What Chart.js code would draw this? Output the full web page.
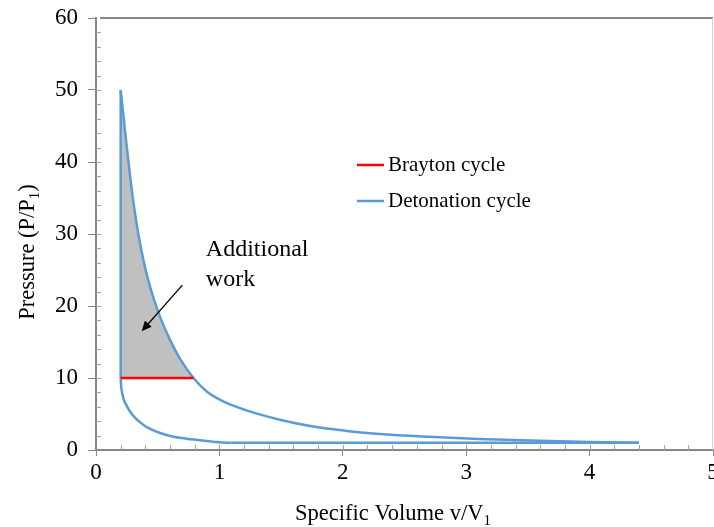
<!DOCTYPE html>
<html>
<head>
<meta charset="utf-8">
<script src="https://cdn.jsdelivr.net/npm/chart.js@4/dist/chart.umd.min.js"></script>
<style>
html, body { margin: 0; padding: 0; background: #fff; }
</style>
</head>
<body>
<canvas id="cycleChart" width="714" height="527"></canvas>
<script>
// values
const volBrayton = [0.2, 0.79];
const presBrayton = [10, 10];

const volExpansion = [0.2, 0.21, 0.222, 0.236, 0.252, 0.27, 0.29, 0.315, 0.345, 0.38, 0.42, 0.47, 0.53, 0.6, 0.68, 0.79, 0.9, 1.05, 1.22, 1.49, 1.76, 2.03, 2.3, 2.7, 3.1, 3.6, 4.0, 4.4];
const presExpansion = [50, 48.4, 46.5, 44.2, 41.7, 39.0, 36.1, 33.0, 29.8, 26.7, 23.8, 20.9, 18.0, 15.3, 12.7, 10.0, 8.1, 6.6, 5.5, 4.2, 3.25, 2.65, 2.22, 1.83, 1.53, 1.27, 1.12, 1.0];

const volCompression = [0.2, 0.203, 0.21, 0.225, 0.25, 0.28, 0.316, 0.36, 0.41, 0.47, 0.545, 0.63, 0.734, 0.83, 0.92, 1.0, 1.1];
const presCompression = [10, 9.0, 8.1, 7.0, 6.1, 5.25, 4.5, 3.8, 3.2, 2.7, 2.22, 1.85, 1.57, 1.38, 1.2, 1.07, 1.0];

const volCombustion = [0.2, 0.2];
const presCombustion = [10, 50];

const volRejection = [1.1, 4.4];
const presRejection = [1.0, 1.0];

const xTicks = [0, 1, 2, 3, 4, 5];
const yTicks = [0, 10, 20, 30, 40, 50, 60];

const seriesNames = ['Brayton cycle', 'Detonation cycle'];
const noteLines = ['Additional', 'work'];

const serif = "'Liberation Serif', 'Times New Roman', serif";
const blue = '#5b9bd5';
const red = '#ff0000';
const axisGrey = '#878787';

function toPoints(vs, ps) {
    return vs.map(function (v, i) { return { x: v, y: ps[i] }; });
}

// shaded part = expansion curve above the Brayton heat-addition line
const nShade = volExpansion.indexOf(volBrayton[1]) + 1;

function blueLine(data) {
    return {
        label: seriesNames[1],
        data: data,
        showLine: true,
        borderColor: blue,
        borderWidth: 2.5,
        pointRadius: 0,
        cubicInterpolationMode: 'monotone',
        fill: false
    };
}

// draw a string with a trailing subscript
function drawWithSub(ctx, main, sub, size, cx, y) {
    ctx.font = size + 'px ' + serif;
    var w1 = ctx.measureText(main).width;
    ctx.font = Math.round(size * 0.65) + 'px ' + serif;
    var w2 = ctx.measureText(sub).width;
    ctx.font = size + 'px ' + serif;
    var w3 = ctx.measureText(')').width;
    var closing = main.charAt(0) === 'P';
    var total = w1 + w2 + (closing ? w3 : 0);
    var x = cx - total / 2;
    ctx.textAlign = 'left';
    ctx.textBaseline = 'alphabetic';
    ctx.fillText(main, x, y);
    ctx.font = Math.round(size * 0.65) + 'px ' + serif;
    ctx.fillText(sub, x + w1, y + size * 0.22);
    if (closing) {
        ctx.font = size + 'px ' + serif;
        ctx.fillText(')', x + w1 + w2, y);
    }
}

const cycleDecor = {
    id: 'cycleDecor',
    afterDatasetsDraw(chart) {
        const ctx = chart.ctx;
        const xs = chart.scales.x, ys = chart.scales.y;

        // annotation arrow
        const x0 = xs.getPixelForValue(0.70), y0 = ys.getPixelForValue(22.9);
        const x1 = xs.getPixelForValue(0.37), y1 = ys.getPixelForValue(16.5);
        const ang = Math.atan2(y1 - y0, x1 - x0);
        ctx.save();
        ctx.strokeStyle = '#000';
        ctx.fillStyle = '#000';
        ctx.lineWidth = 1.3;
        ctx.beginPath();
        ctx.moveTo(x0, y0);
        ctx.lineTo(x1 - 6 * Math.cos(ang), y1 - 6 * Math.sin(ang));
        ctx.stroke();
        ctx.beginPath();
        ctx.moveTo(x1, y1);
        ctx.lineTo(x1 - 10 * Math.cos(ang) + 4.5 * Math.sin(ang), y1 - 10 * Math.sin(ang) - 4.5 * Math.cos(ang));
        ctx.lineTo(x1 - 10 * Math.cos(ang) - 4.5 * Math.sin(ang), y1 - 10 * Math.sin(ang) + 4.5 * Math.cos(ang));
        ctx.closePath();
        ctx.fill();

        // annotation text
        ctx.font = '24px ' + serif;
        ctx.textAlign = 'left';
        ctx.textBaseline = 'alphabetic';
        const tx = xs.getPixelForValue(0.89);
        ctx.fillText(noteLines[0], tx, ys.getPixelForValue(26.9));
        ctx.fillText(noteLines[1], tx, ys.getPixelForValue(22.75));
        ctx.restore();
    },
    afterDraw(chart) {
        const ctx = chart.ctx;
        const a = chart.chartArea;
        const xs = chart.scales.x, ys = chart.scales.y;
        ctx.save();

        // frame top and right
        ctx.strokeStyle = axisGrey;
        ctx.lineWidth = 2;
        ctx.beginPath();
        ctx.moveTo(a.left + 4, a.top);
        ctx.lineTo(a.right, a.top);
        ctx.stroke();
        ctx.strokeStyle = '#d0d0d0';
        ctx.lineWidth = 1;
        ctx.beginPath();
        ctx.moveTo(a.right - 0.5, a.top);
        ctx.lineTo(a.right - 0.5, a.bottom);
        ctx.stroke();

        // minor ticks, inside the plot
        ctx.strokeStyle = '#a0a0a0';
        ctx.lineWidth = 1;
        ctx.beginPath();
        for (let k = 1; k < 25; k++) {
            const px = Math.round(xs.getPixelForValue(k * 0.2)) + 0.5;
            ctx.moveTo(px, a.bottom);
            ctx.lineTo(px, a.bottom - 5);
        }
        for (let k = 1; k < 30; k++) {
            const py = Math.round(ys.getPixelForValue(k * 2)) + 0.5;
            ctx.moveTo(a.left, py);
            ctx.lineTo(a.left + 5, py);
        }
        ctx.stroke();

        // legend
        const legendRows = [
            { name: seriesNames[0], color: red, y: 165 },
            { name: seriesNames[1], color: blue, y: 201 }
        ];
        ctx.font = '21px ' + serif;
        ctx.textAlign = 'left';
        ctx.textBaseline = 'alphabetic';
        legendRows.forEach(function (r) {
            ctx.strokeStyle = r.color;
            ctx.lineWidth = 2.5;
            ctx.beginPath();
            ctx.moveTo(357, r.y);
            ctx.lineTo(384, r.y);
            ctx.stroke();
            ctx.fillStyle = '#000';
            ctx.fillText(r.name, 388, r.y + 6);
        });

        // axis titles
        ctx.fillStyle = '#000';
        drawWithSub(ctx, 'Specific Volume v/V', '1', 22.5, 393, 520);
        ctx.translate(34, 252);
        ctx.rotate(-Math.PI / 2);
        drawWithSub(ctx, 'Pressure (P/P', '1', 22.5, 0, 0);
        ctx.restore();
    }
};

const ctx = document.getElementById('cycleChart').getContext('2d');

const cycleChart = new Chart(ctx, {
    type: 'scatter',
    data: {
        datasets: [
            {
                label: seriesNames[0],
                data: toPoints(volBrayton, presBrayton),
                showLine: true,
                borderColor: red,
                borderWidth: 2.5,
                pointRadius: 0,
                fill: false
            },
            blueLine(toPoints(volExpansion, presExpansion)),
            blueLine(toPoints(volCompression, presCompression)),
            blueLine(toPoints(volCombustion, presCombustion)),
            blueLine(toPoints(volRejection, presRejection)),
            {
                label: 'Additional work',
                data: toPoints(volExpansion.slice(0, nShade), presExpansion.slice(0, nShade)),
                showLine: true,
                borderWidth: 0,
                borderColor: 'rgba(0,0,0,0)',
                backgroundColor: '#c0c0c0',
                pointRadius: 0,
                cubicInterpolationMode: 'monotone',
                fill: { value: presBrayton[0] }
            }
        ]
    },
    options: {
        responsive: false,
        animation: false,
        layout: { padding: { top: 18, right: 1, left: 0, bottom: 0 } },
        plugins: {
            legend: { display: false },
            tooltip: { enabled: false }
        },
        scales: {
            x: {
                type: 'linear',
                min: xTicks[0],
                max: xTicks[xTicks.length - 1],
                afterBuildTicks: function (s) { s.ticks = xTicks.map(function (v) { return { value: v }; }); },
                ticks: {
                    color: '#000',
                    font: { family: serif, size: 23 },
                    padding: 3,
                    maxRotation: 0,
                    autoSkip: false
                },
                grid: { drawOnChartArea: false, tickLength: 6, tickColor: axisGrey, tickWidth: 1 },
                border: { color: axisGrey, width: 2 },
                afterFit: function (s) { s.height = 77; s.paddingLeft = 0; s.paddingRight = 0; }
            },
            y: {
                type: 'linear',
                min: yTicks[0],
                max: yTicks[yTicks.length - 1],
                afterBuildTicks: function (s) { s.ticks = yTicks.map(function (v) { return { value: v }; }); },
                ticks: {
                    color: '#000',
                    font: { family: serif, size: 23 },
                    padding: 10,
                    autoSkip: false
                },
                grid: { drawOnChartArea: false, tickLength: 8, tickColor: axisGrey, tickWidth: 1 },
                border: { color: axisGrey, width: 2 },
                afterFit: function (s) { s.width = 96; s.paddingTop = 0; s.paddingBottom = 0; }
            }
        }
    },
    plugins: [cycleDecor]
});
</script>
</body>
</html>
